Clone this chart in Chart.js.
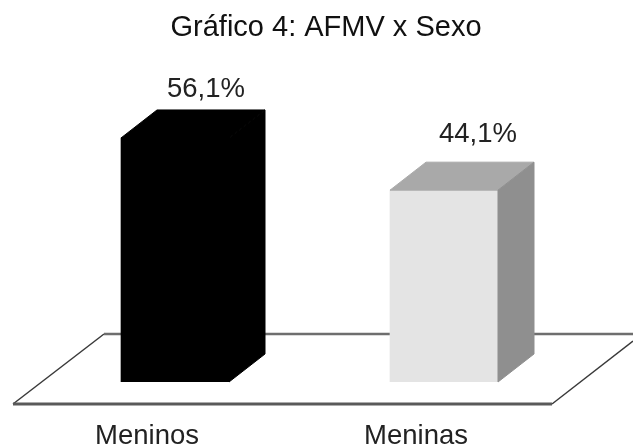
<!DOCTYPE html>
<html>
<head>
<meta charset="utf-8">
<style>
  html, body { margin: 0; padding: 0; background: #ffffff; }
  #wrap { width: 633px; height: 446px; }
</style>
<script src="https://cdn.jsdelivr.net/npm/chart.js@4/dist/chart.umd.min.js"></script>
</head>
<body>
<div id="wrap"><canvas id="c" width="633" height="446"></canvas></div>
<script>
const chartTitle = "Gráfico 4: AFMV x Sexo";
const categories = ["Meninos", "Meninas"];
const percentages = [56.1, 44.1];
const frontColors = ["#000000", "#e4e4e4"];
const topColors = ["#000000", "#a9a9a9"];
const sideColors = ["#000000", "#8f8f8f"];

// Oblique projection offset of the bar boxes
const DEPTH_X = 36;
const DEPTH_Y = 28;
const FONT = '"Liberation Sans", Arial, sans-serif';

// Offsets of the percentage text from the front face centre and the back edge
const valueShiftX = [31, 34];
const valueLift = [13, 20];

function poly(ctx, pts, fill, stroke, width) {
  ctx.beginPath();
  pts.forEach((p, i) => i ? ctx.lineTo(p[0], p[1]) : ctx.moveTo(p[0], p[1]));
  if (fill) { ctx.fillStyle = fill; ctx.closePath(); ctx.fill(); }
  if (stroke) { ctx.strokeStyle = stroke; ctx.lineWidth = width; ctx.stroke(); }
}

// Floor plane behind the bars: heavier front and back edges, thin slanted sides
const floorPlane = {
  id: "floorPlane",
  beforeDatasetsDraw(chart) {
    const { ctx, width, chartArea } = chart;
    const base = chartArea.bottom;
    const back = base - 48, front = base + 22;
    ctx.save();
    poly(ctx, [[104, back], [13, front]], null, "#3a3a3a", 1.5);
    poly(ctx, [[552, front], [width, back + 7]], null, "#3a3a3a", 1.5);
    poly(ctx, [[104, back], [width, back]], null, "#6e6e6e", 2.4);
    poly(ctx, [[13, front], [552, front]], null, "#5a5a5a", 3);
    ctx.restore();
  }
};

// Top and side faces of each box, plus the percentage and the heading
const boxFaces = {
  id: "boxFaces",
  afterDatasetsDraw(chart) {
    const { ctx } = chart;
    const bars = chart.getDatasetMeta(0).data;
    ctx.save();
    bars.forEach((bar, i) => {
      const half = bar.width / 2;
      const l = bar.x - half, r = bar.x + half, t = bar.y, b = bar.base;
      poly(ctx, [[l, t], [r, t], [r + DEPTH_X, t - DEPTH_Y], [l + DEPTH_X, t - DEPTH_Y]], topColors[i], topColors[i], 1);
      poly(ctx, [[r, t], [r + DEPTH_X, t - DEPTH_Y], [r + DEPTH_X, b - DEPTH_Y], [r, b]], sideColors[i], sideColors[i], 1);
      ctx.fillStyle = "#222222";
      ctx.font = "27.5px " + FONT;
      ctx.textAlign = "center";
      ctx.textBaseline = "alphabetic";
      ctx.fillText(percentages[i].toFixed(1).replace(".", ",") + "%", bar.x + valueShiftX[i], t - DEPTH_Y - valueLift[i]);
    });
    ctx.fillStyle = "#111111";
    ctx.font = "29px " + FONT;
    ctx.textAlign = "center";
    ctx.fillText(chartTitle, 326, 36);
    ctx.restore();
  }
};

new Chart(document.getElementById("c"), {
  type: "bar",
  data: {
    labels: categories,
    datasets: [{
      data: percentages,
      backgroundColor: frontColors,
      barThickness: 108,
      borderWidth: 0
    }]
  },
  plugins: [floorPlane, boxFaces],
  options: {
    responsive: false,
    animation: false,
    layout: { padding: { left: 40.5, right: 54.5, top: 121, bottom: 0 } },
    plugins: { legend: { display: false }, tooltip: { enabled: false }, title: { display: false } },
    scales: {
      y: { display: false, min: 0, max: 60 },
      x: {
        grid: { display: false },
        border: { display: false },
        afterFit(axis) { axis.height = 64; },
        ticks: { color: "#222222", font: { family: FONT, size: 27.5 }, padding: 30, labelOffset: -28, maxRotation: 0 }
      }
    }
  }
});
</script>
</body>
</html>
